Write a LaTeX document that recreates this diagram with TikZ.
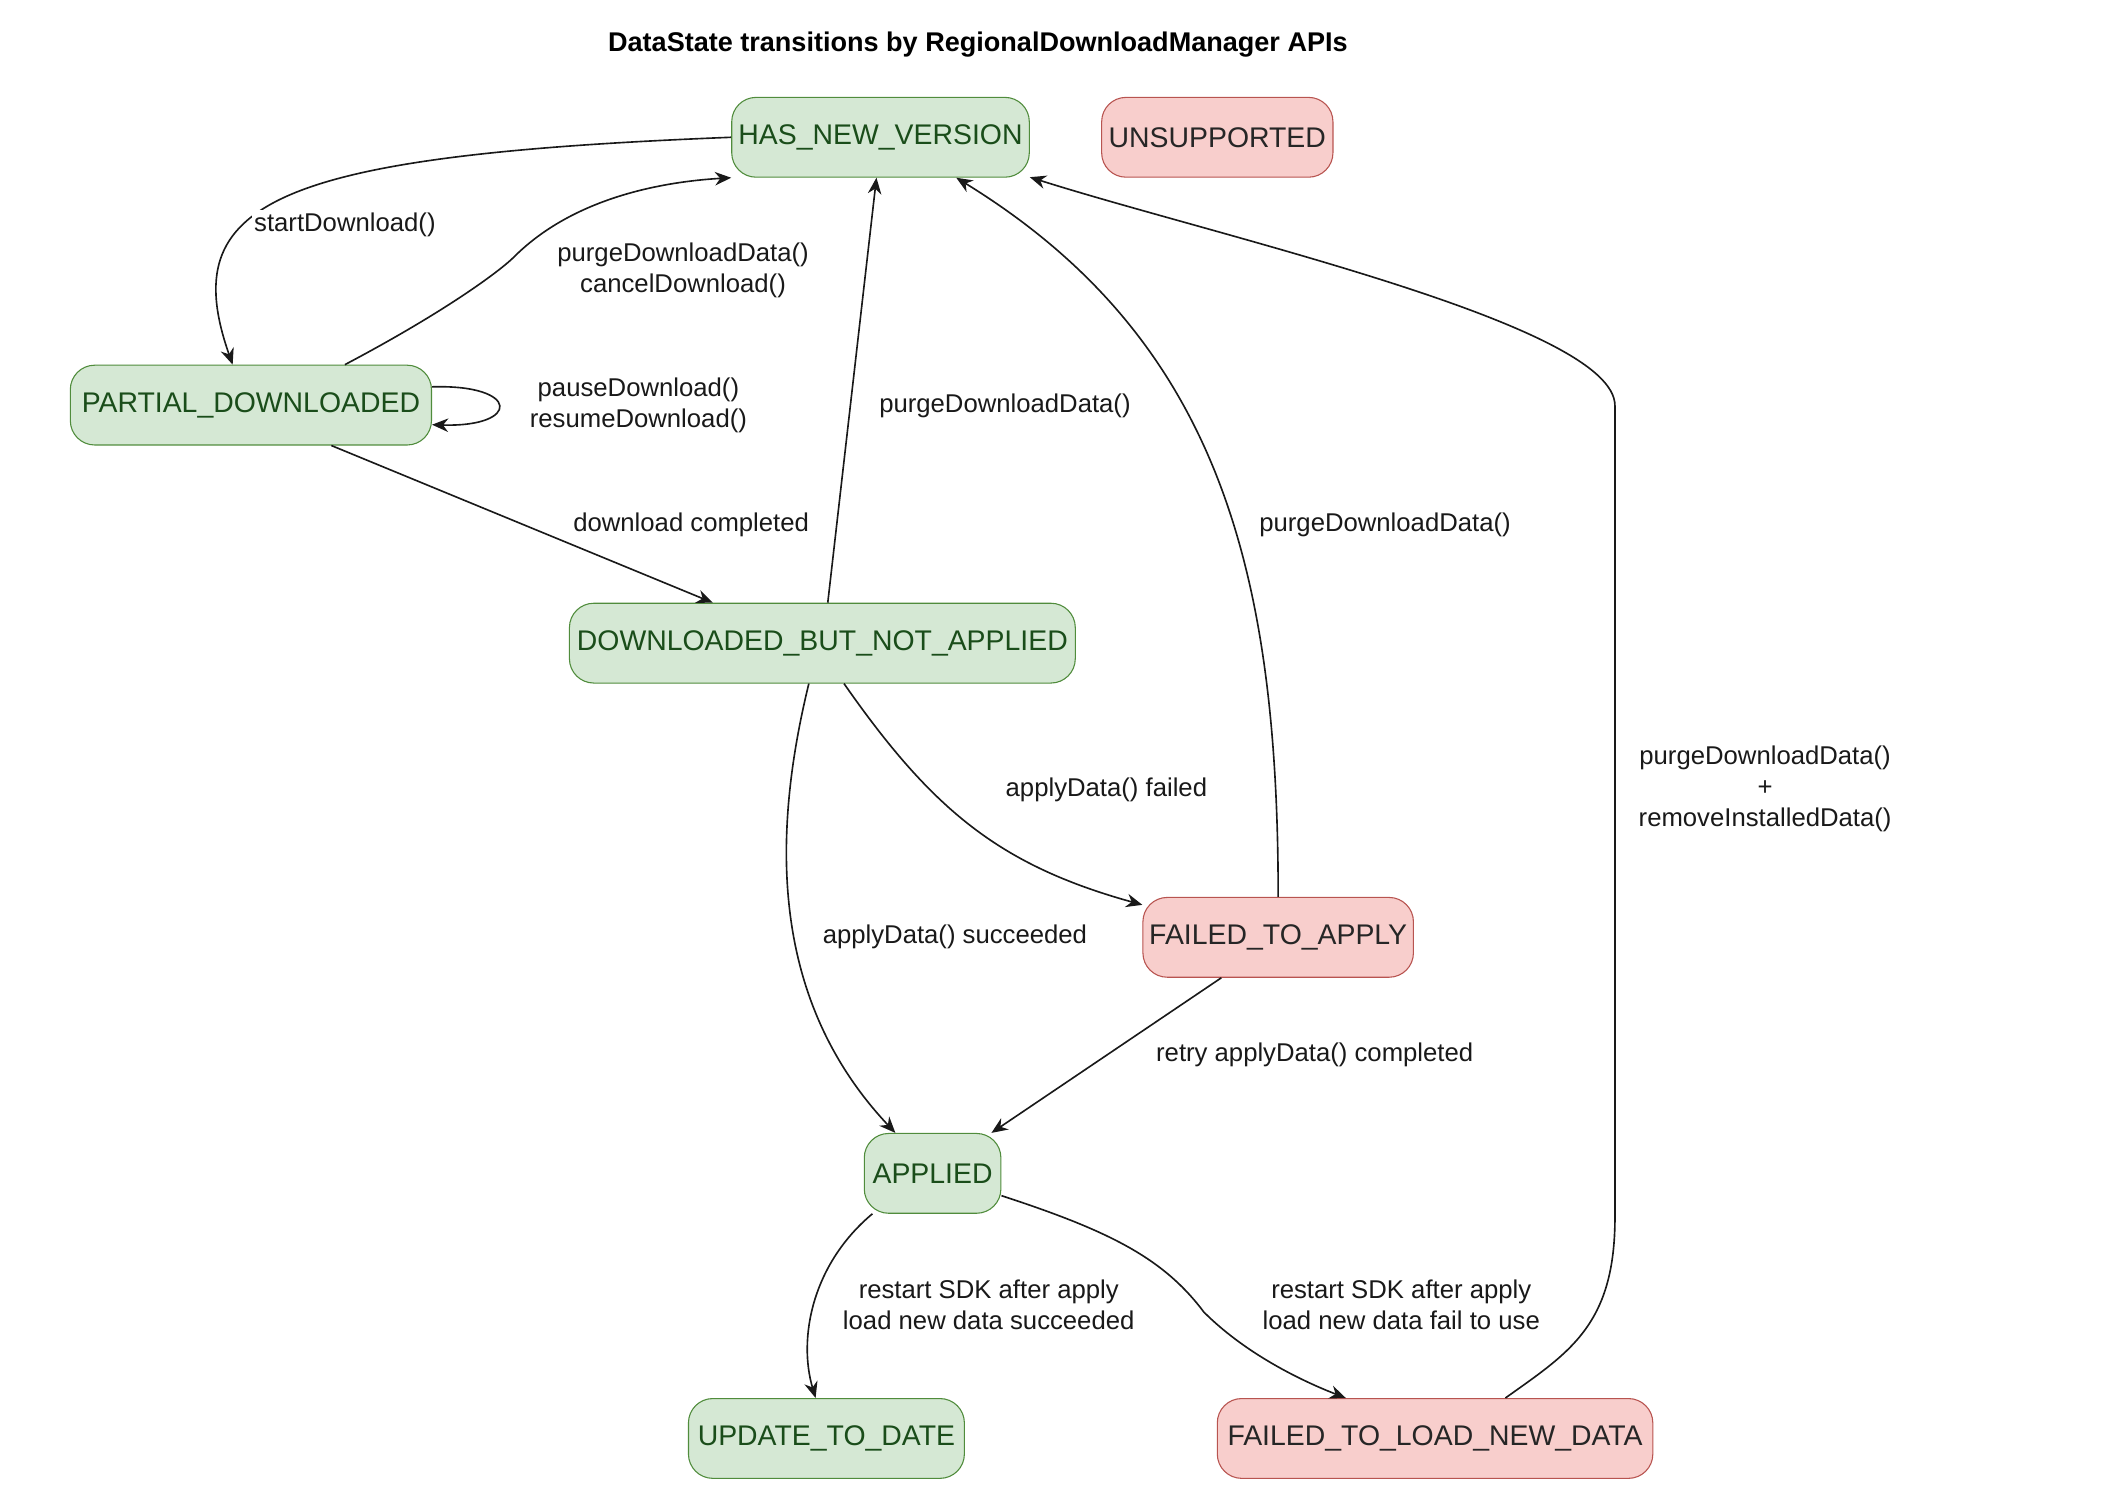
\documentclass[tikz,border=0pt]{standalone}
\usepackage{fontspec}
\setmainfont{Liberation Sans}
\usetikzlibrary{arrows.meta}
\begin{document}
\begin{tikzpicture}[x=0.5pt,y=-0.5pt,
 st/.style={draw,rounded corners=9pt,minimum height=29.5pt,inner sep=0pt,font=\fontsize{10.5}{12}\selectfont},
 ok/.style={st,fill=green!10!white,fill={rgb,255:red,213;green,232;blue,212},draw={rgb,255:red,80;green,140;blue,60},text={rgb,255:red,26;green,77;blue,26}},
 bad/.style={st,fill={rgb,255:red,248;green,206;blue,204},draw={rgb,255:red,184;green,84;blue,80},text=black!85},
 e/.style={-{Stealth[length=6pt,width=5pt]},line width=0.6pt,draw=black!90},
 lb/.style={font=\fontsize{9.5}{11.5}\selectfont,align=center,fill=white,inner sep=1pt,text=black!90}]
\useasboundingbox (0,0) rectangle (1560,1102);
\node[font=\bfseries\fontsize{10}{12}\selectfont] (title) at (723,33) {DataState transitions by RegionalDownloadManager APIs};
\node[ok,minimum width=110pt] (hnv) at (651,101.5) {HAS\_NEW\_VERSION};
\node[bad,minimum width=85.5pt] (uns) at (900,101.5) {UNSUPPORTED};
\node[ok,minimum width=133.5pt] (pd) at (185.5,299.5) {PARTIAL\_DOWNLOADED};
\node[ok,minimum width=187pt] (dbna) at (608,475.5) {DOWNLOADED\_BUT\_NOT\_APPLIED};
\node[bad,minimum width=100pt] (fta) at (945,693) {FAILED\_TO\_APPLY};
\node[ok,minimum width=50.5pt] (app) at (689.5,867.5) {APPLIED};
\node[ok,minimum width=102pt] (utd) at (611,1063.5) {UPDATE\_TO\_DATE};
\node[bad,minimum width=161pt] (flnd) at (1061,1063.5) {FAILED\_TO\_LOAD\_NEW\_DATA};
\coordinate (c7) at (1194,300);
% edges
\draw[e] (hnv.west) .. controls (200,115) and (130,150) .. (pd.north west -| 172,0) node[lb,pos=0.62,right=2pt] {startDownload()};
\draw[e] (pd.north -| 255,0) .. controls (330,230) and (370,200) .. (380,190) .. controls (420,150) and (480,135) .. (hnv.south west) ;
\node[lb] (l2) at (505,200) {purgeDownloadData()\\cancelDownload()};
\draw[e] (pd.east |- 0,286) .. controls (385,284) and (385,316) .. (pd.east |- 0,314);
\node[lb] (l3) at (472,300) {pauseDownload()\\resumeDownload()};
\draw[e] (pd.south -| 245,0) -- (dbna.north -| 527,0) node[lb,pos=0.6,above right=1pt] {};
\node[lb] (l4) at (511,388) {download completed};
\draw[e] (dbna.north -| 612,0) -- (hnv.south -| 648,0);
\node[lb] (l5) at (743,300) {purgeDownloadData()};
\draw[e] (fta.north) .. controls (945,420) and (900,250) .. (hnv.south -| 707,0);
\node[lb] (l6) at (1024,388) {purgeDownloadData()};
\draw[e] (flnd.north -| 1113,0) .. controls (1160,1000) and (1194,980) .. (1194,900) -- (c7) .. controls (1194,240) and (900,175) .. (hnv.east |- 0,131);
\node[lb] (l7) at (1305,583) {purgeDownloadData()\\+\\removeInstalledData()};
\draw[e] (dbna.south -| 624,0) .. controls (690,600) and (740,640) .. (fta.west |- 0,669);
\node[lb] (l8) at (818,584) {applyData() failed};
\draw[e] (dbna.south -| 598,0) .. controls (570,620) and (570,740) .. (app.north -| 662,0);
\node[lb] (l9) at (706,693) {applyData() succeeded};
\draw[e] (fta.south -| 903,0) -- (app.north -| 733,0);
\node[lb] (l10) at (972,780) {retry applyData() completed};
\draw[e] (app.south -| 645,0) .. controls (600,935) and (590,990) .. (utd.north -| 603,0);
\node[lb] (l11) at (731,965) {restart SDK after apply\\load new data succeeded};
\draw[e] (app.east |- 0,884) .. controls (820,910) and (860,930) .. (890,970) .. controls (920,1000) and (960,1020) .. (flnd.north -| 995,0);
\node[lb] (l12) at (1036,965) {restart SDK after apply\\load new data fail to use};
\end{tikzpicture}
\end{document}
